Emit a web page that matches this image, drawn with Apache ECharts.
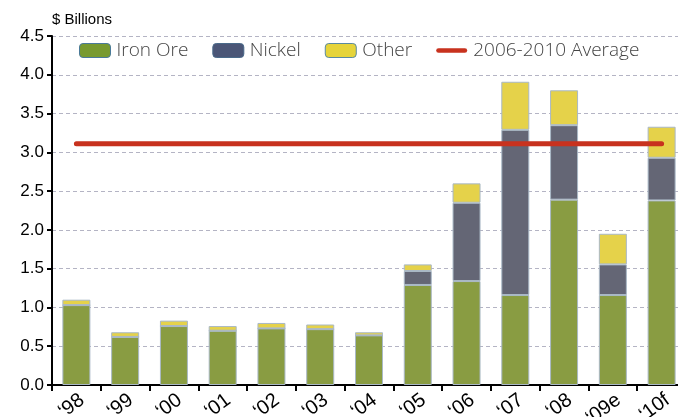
<!DOCTYPE html>
<html><head><meta charset="utf-8">
<script src="https://cdn.jsdelivr.net/npm/echarts@6/dist/echarts.min.js"></script>
<style>html,body{margin:0;padding:0;background:#fff}#c{width:678px;height:417px}</style>
</head><body><div id="c"></div>
<script>
const categories = ['\u201898','\u201899','\u201800','\u201801','\u201802','\u201803','\u201804','\u201805','\u201806','\u201807','\u201808','\u201809e','\u201810f'];
const ironOre = [1.03,0.62,0.76,0.70,0.73,0.72,0.64,1.29,1.34,1.16,2.39,1.16,2.38];
const nickel  = [0,0,0,0,0,0,0,0.18,1.01,2.13,0.96,0.395,0.55];
const other   = [0.07,0.06,0.07,0.06,0.07,0.06,0.04,0.085,0.25,0.62,0.45,0.395,0.40];
const avgValue = 3.11;
const average = categories.map(() => avgValue);
const yTicks = {min:0, max:4.5, interval:0.5};

const border = '#a9b8c6';
const chart = echarts.init(document.getElementById('c'), null, {renderer:'canvas'});
chart.setOption({
  animation:false,
  backgroundColor:'#fff',
  grid:{left:52, right:-8, top:36, bottom:32, containLabel:false, outerBoundsMode:'none'},
  legend:{
    left:79, top:41, padding:0, itemWidth:31, itemHeight:14, itemGap:24,
    textStyle:{fontFamily:'Open Sans', fontWeight:300, fontSize:19, color:'#444', padding:[0,0,0,1]},
    data:[
      {name:'Iron Ore', itemStyle:{color:'#789a30', borderColor:'#4a7a9a', borderWidth:1}},
      {name:'Nickel', itemStyle:{color:'#4b5677', borderColor:'#4a6a8a', borderWidth:1}},
      {name:'Other', itemStyle:{color:'#e6d43a', borderColor:'#5a8aa0', borderWidth:1}},
      {name:'2006-2010 Average', icon:'path://M2.5,0 H30.5 A2.5,2.5 0 0 1 30.5,5 H2.5 A2.5,2.5 0 0 1 2.5,0 Z', itemStyle:{color:'#c8321e'}}
    ]
  },
  graphic:[{type:'text', left:52, top:12, style:{text:'$ Billions', font:'15px "Liberation Sans", Arial', fill:'#000'}}],
  xAxis:{
    type:'category', data:categories, boundaryGap:true,
    axisLine:{lineStyle:{color:'#000', width:2}},
    axisTick:{show:true, length:6, lineStyle:{color:'#000', width:2}},
    axisLabel:{rotate:36, fontFamily:'Liberation Sans', fontSize:20, color:'#000', margin:5, interval:0, verticalAlign:'top'}
  },
  yAxis:{
    type:'value', min:yTicks.min, max:yTicks.max, interval:yTicks.interval,
    axisLine:{show:true, lineStyle:{color:'#000', width:2}},
    axisTick:{show:true, length:5, lineStyle:{color:'#000', width:2}},
    axisLabel:{fontFamily:'Liberation Sans', fontSize:17, color:'#000', margin:8, formatter:v=>v.toFixed(1)},
    splitLine:{show:true, lineStyle:{color:'#b4b4c4', type:[4,3], width:1}}
  },
  series:[
    {name:'Iron Ore', type:'bar', stack:'s', data:ironOre, barWidth:28,
     itemStyle:{color:'#899c42', borderColor:border, borderWidth:1}},
    {name:'Nickel', type:'bar', stack:'s', data:nickel, barWidth:28,
     itemStyle:{color:'#646675', borderColor:border, borderWidth:1}},
    {name:'Other', type:'bar', stack:'s', data:other, barWidth:28,
     itemStyle:{color:'#e5d24a', borderColor:border, borderWidth:1}},
    {name:'2006-2010 Average', type:'line', data:average, symbol:'none', showSymbol:false, z:5,
     itemStyle:{color:'#c8321e'},
     lineStyle:{color:'#c8321e', width:5, cap:'round'}}
  ]
});
</script></body></html>
